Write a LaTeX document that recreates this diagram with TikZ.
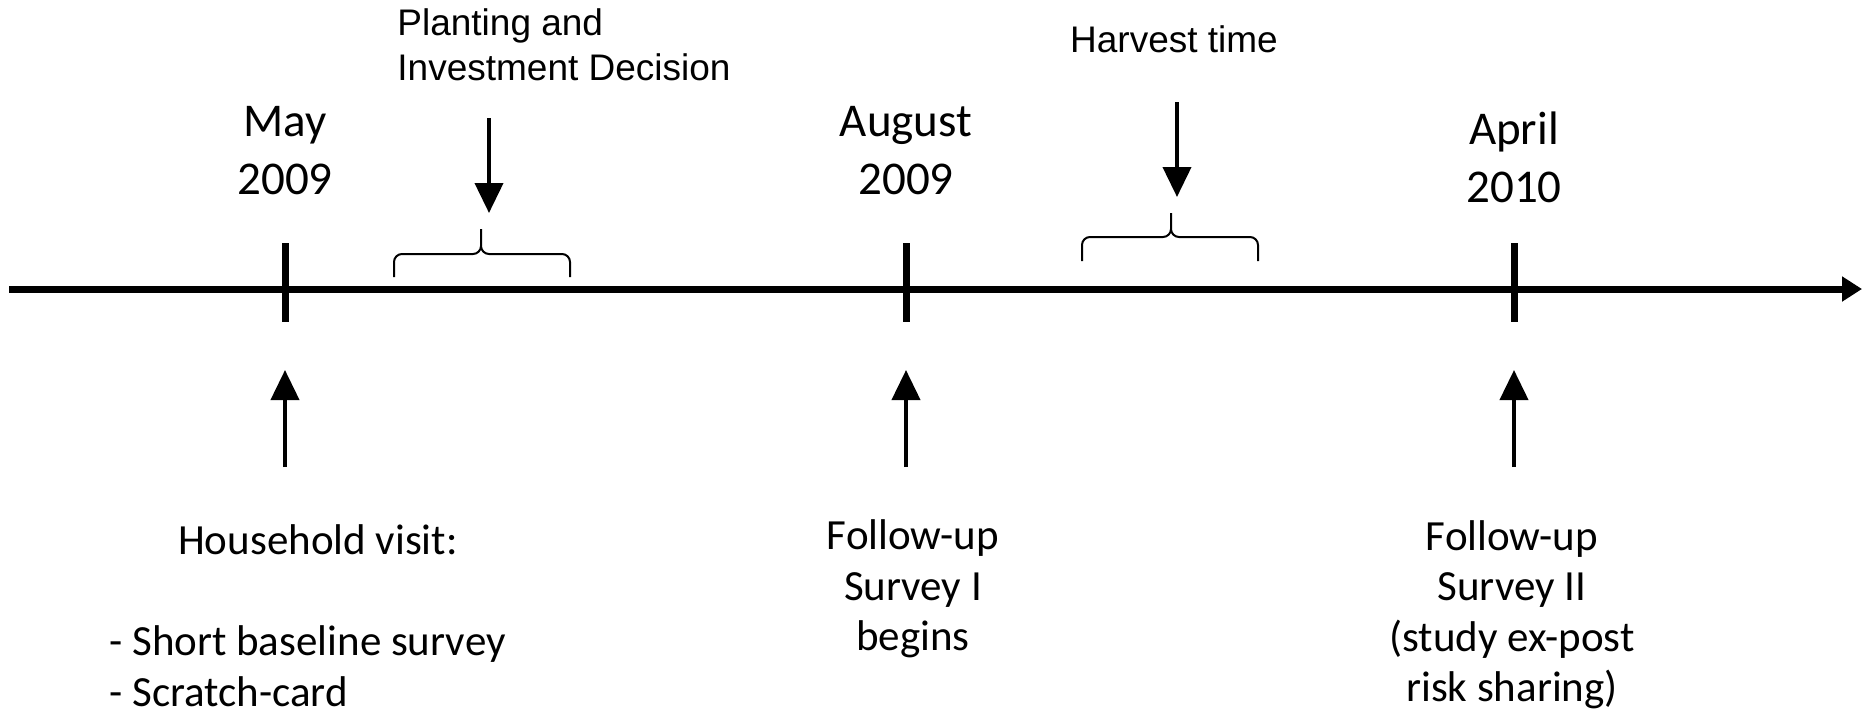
\documentclass[tikz,border=0pt]{standalone}
\usepackage{fontspec}
\usepackage{tikz}
\usetikzlibrary{arrows.meta}
\setmainfont{Carlito}
\newfontfamily\arialfont{Liberation Sans}

\begin{document}
\begin{tikzpicture}[x=0.5pt, y=-0.5pt,
  datelabel/.style={font=\fontsize{23.5}{29}\selectfont, align=center, inner sep=0pt},
  eventlabel/.style={font=\fontsize{21.5}{25.25}\selectfont, align=center, inner sep=0pt},
  phaselabel/.style={font=\arialfont\fontsize{18.5}{22.5}\selectfont, inner sep=0pt},
  marker/.style={line width=3.5pt},
  pointer/.style={line width=2pt, -{Triangle[width=14pt,length=15pt]}},
  bracket/.style={line width=1pt, rounded corners=4pt}]
\useasboundingbox (0,0) rectangle (1862,713);

% time axis and ticks
\draw[line width=3.5pt,-{Triangle[width=12pt,length=10pt]}] (9,289) -- (1862,289);
\draw[marker] (285,243) -- (285,322);
\draw[marker] (906,243) -- (906,322);
\draw[marker] (1514,243) -- (1514,322);

% dates
\node[datelabel] (may) at (285,151) {May\\2009};
\node[datelabel] (aug) at (906,151) {August\\2009};
\node[datelabel] (apr) at (1514,157) {April\\2010};

% periods above the axis
\node[phaselabel, align=left, anchor=west] (plant) at (397,45) {Planting and\\Investment Decision};
\node[phaselabel] (harvest) at (1174,39) {Harvest time};
\draw[bracket] (394,277) -- (394,254) -- (481,254) -- (481,229) (570,277) -- (570,254) -- (481,254) -- (481,229);
\draw[bracket] (1082,261) -- (1082,237) -- (1171,237) -- (1171,213) (1258,261) -- (1258,237) -- (1171,237) -- (1171,213);
\coordinate (plantTop) at (489,118);
\coordinate (plantTip) at (489,213);
\coordinate (harvestTop) at (1177,102);
\coordinate (harvestTip) at (1177,197);
\draw[pointer] (plantTop) -- (plantTip);
\draw[pointer] (harvestTop) -- (harvestTip);

% events below the axis
\coordinate (mayFoot) at (285,467);
\coordinate (mayHead) at (285,370);
\coordinate (augFoot) at (906,467);
\coordinate (augHead) at (906,370);
\coordinate (aprFoot) at (1514,467);
\coordinate (aprHead) at (1514,370);
\draw[pointer] (mayFoot) -- (mayHead);
\draw[pointer] (augFoot) -- (augHead);
\draw[pointer] (aprFoot) -- (aprHead);

\node[eventlabel] (visit) at (318,540) {Household visit:};
\node[eventlabel, align=left, anchor=west] (visitlist) at (109,666) {- Short baseline survey\\- Scratch-card};
\node[eventlabel] (survone) at (913,589) {Follow-up\\Survey I\\begins};
\node[eventlabel] (survtwo) at (1512,615) {Follow-up\\Survey II\\(study ex-post\\risk sharing)};
\end{tikzpicture}
\end{document}
